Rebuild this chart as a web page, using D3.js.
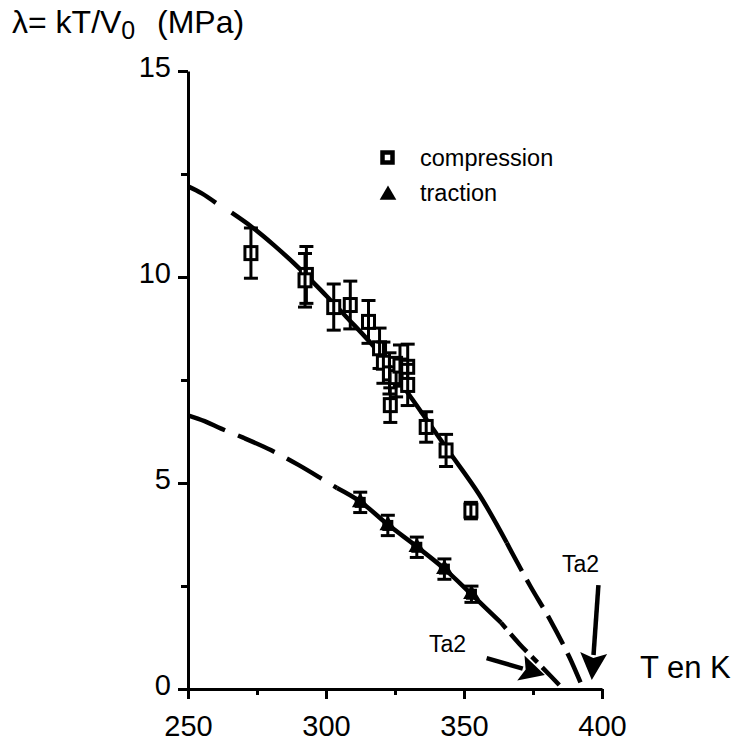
<!DOCTYPE html>
<html>
<head>
<meta charset="utf-8">
<script src="https://cdn.jsdelivr.net/npm/d3@7"></script>
<style>
  html, body { margin: 0; padding: 0; background: #fff; }
  svg { display: block; }
  text { font-family: "Liberation Sans", Arial, Helvetica, sans-serif; fill: #000; }
</style>
</head>
<body>
<script>
// ---------- data ----------
const xTicksMajor = [250, 300, 350, 400];
const xTicksMinor = [275, 325, 375];
const yTicksMajor = [0, 5, 10, 15];
const yTicksMinor = [2.5, 7.5, 12.5];

// compression measurements (T in K, lambda in MPa, error)
const compT   = [272.8, 292.9, 292.4, 302.8, 308.8, 315.4, 319.4, 320.8, 323.0, 325.4, 326.8, 329.6, 329.6, 323.3, 336.3, 343.5, 352.5];
const compL   = [10.58, 10.05, 9.92, 9.27, 9.32, 8.91, 8.27, 7.92, 7.66, 7.57, 7.85, 7.82, 7.38, 6.89, 6.36, 5.79, 4.33];
const compErr = [0.61, 0.69, 0.65, 0.56, 0.58, 0.52, 0.49, 0.50, 0.50, 0.48, 0.50, 0.55, 0.50, 0.42, 0.37, 0.39, 0.20];

// traction measurements
const tracT   = [312.4, 322.4, 332.9, 342.9, 352.7];
const tracL   = [4.53, 3.97, 3.44, 2.91, 2.30];
const tracErr = [0.15, 0.15, 0.15, 0.15, 0.10];

// fitted curves [T, lambda]
const compCurveDashTop = [[250, 12.2], [255, 12.03], [260.1, 11.8]];
const compCurveSolid   = [[265.8, 11.56], [273, 11.22], [281, 10.78], [290.5, 10.2], [300, 9.55], [307.4, 9.03], [319.4, 8.15], [331.4, 7.02], [343.5, 5.86], [355.5, 4.72], [365.5, 3.55]];
const compCurveDashBot = [[365.5, 3.55], [367.3, 3.32], [374, 2.5], [381.2, 1.68], [388, 0.8], [393.2, 0]];

const tracCurveDash    = [[250, 6.64], [256, 6.5], [262, 6.32], [270, 6.1], [280, 5.8], [290, 5.44], [300, 5.04], [304, 4.88]];
const tracCurveSolid   = [[304, 4.88], [312.4, 4.55], [322.4, 3.99], [333, 3.45], [343, 2.91], [352.7, 2.30], [363.4, 1.61]];
const tracCurveDashDot = [[363.4, 1.61], [370, 1.1], [378, 0.55], [385.9, 0]];

// annotation arrows (T, lambda) tail -> tip
const arrowTa2Upper = [[398.7, 2.52], [396.3, 0.22]];
const arrowTa2Lower = [[358.2, 0.75], [379.3, 0.34]];
const ta2Labels = ["Ta2", "Ta2"];

const legendLabels = ["compression", "traction"];

// ---------- drawing ----------
const W = 737, H = 746;
const svg = d3.select("body").append("svg").attr("width", W).attr("height", H);

const x = d3.scaleLinear().domain([250, 400]).range([188, 602]);
const y = d3.scaleLinear().domain([0, 15]).range([689, 71]);

// axes
const gx = svg.append("g").attr("transform", `translate(0,${y(0)})`)
  .call(d3.axisBottom(x).tickValues(xTicksMajor).tickSize(10).tickSizeOuter(0).tickPadding(16).tickFormat(d3.format("d")));
const gxm = svg.append("g").attr("transform", `translate(0,${y(0)})`)
  .call(d3.axisBottom(x).tickValues(xTicksMinor).tickSize(6).tickFormat(""));
gxm.select(".domain").remove();

const gy = svg.append("g").attr("transform", `translate(${x(250)},0)`)
  .call(d3.axisLeft(y).tickValues(yTicksMajor).tickSize(10).tickSizeOuter(0).tickPadding(7).tickFormat(d3.format("d")));
const gym = svg.append("g").attr("transform", `translate(${x(250)},0)`)
  .call(d3.axisLeft(y).tickValues(yTicksMinor).tickSize(7).tickFormat(""));
gym.select(".domain").remove();

svg.selectAll(".domain, .tick line").attr("stroke", "#000").attr("stroke-width", 3);
svg.selectAll(".tick text").style("font-size", "29px").attr("fill", "#000")
  .style("font-family", '"Liberation Sans", Arial, Helvetica, sans-serif');
gy.selectAll(".tick text").attr("dy", "0.2em");

// curves
const line = d3.line().x(d => x(d[0])).y(d => y(d[1])).curve(d3.curveCatmullRom);
function curve(data, dash) {
  svg.append("path").datum(data).attr("d", line)
    .attr("fill", "none").attr("stroke", "#000").attr("stroke-width", 4.5)
    .attr("stroke-dasharray", dash || null);
}
curve(compCurveDashTop);
curve(compCurveSolid);
curve(compCurveDashBot, "32,10");
curve(tracCurveDash, "40,14");
curve(tracCurveSolid);
curve(tracCurveDashDot, "8,7,24,7");

// compression markers with error bars
const comp = compT.map((t, i) => ({ t, l: compL[i], e: compErr[i] }));
const gc = svg.append("g");
comp.forEach(d => {
  const cx = x(d.t), cy = y(d.l);
  gc.append("rect").attr("x", cx - 6).attr("y", cy - 6.5).attr("width", 12).attr("height", 13)
    .attr("fill", "#fff").attr("stroke", "#000").attr("stroke-width", 3);
  gc.append("line").attr("x1", cx).attr("x2", cx).attr("y1", y(d.l + d.e)).attr("y2", y(d.l - d.e))
    .attr("stroke", "#000").attr("stroke-width", 3);
  [d.l + d.e, d.l - d.e].forEach(v => {
    gc.append("line").attr("x1", cx - 7).attr("x2", cx + 7).attr("y1", y(v)).attr("y2", y(v))
      .attr("stroke", "#000").attr("stroke-width", 3);
  });
});

// traction markers
const trac = tracT.map((t, i) => ({ t, l: tracL[i], e: tracErr[i] }));
const gt = svg.append("g");
const tri = d3.symbol().type(d3.symbolTriangle).size(120);
trac.forEach(d => {
  const cx = x(d.t), cy = y(d.l);
  gt.append("rect").attr("x", cx - 5.5).attr("y", cy - 5.5).attr("width", 11).attr("height", 11).attr("fill", "#000");
  gt.append("path").attr("d", tri).attr("transform", `translate(${cx},${cy})`).attr("fill", "#000");
  gt.append("line").attr("x1", cx).attr("x2", cx).attr("y1", y(d.l + d.e) - 4).attr("y2", y(d.l - d.e) + 4)
    .attr("stroke", "#000").attr("stroke-width", 3);
  [y(d.l + d.e) - 4, y(d.l - d.e) + 4].forEach(v => {
    gt.append("line").attr("x1", cx - 7).attr("x2", cx + 7).attr("y1", v).attr("y2", v)
      .attr("stroke", "#000").attr("stroke-width", 3);
  });
});

// arrows
function arrow(pts, headLen, headW) {
  const x1 = x(pts[0][0]), y1 = y(pts[0][1]), x2 = x(pts[1][0]), y2 = y(pts[1][1]);
  const dx = x2 - x1, dy = y2 - y1, L = Math.hypot(dx, dy);
  const ux = dx / L, uy = dy / L, px = -uy, py = ux;
  const bx = x2 - ux * headLen, by = y2 - uy * headLen;
  svg.append("line").attr("x1", x1).attr("y1", y1).attr("x2", bx + ux * 2).attr("y2", by + uy * 2)
    .attr("stroke", "#000").attr("stroke-width", 4.5);
  svg.append("path")
    .attr("d", `M${x2},${y2}L${bx + px * headW / 2},${by + py * headW / 2}L${bx + ux * 5},${by + uy * 5}L${bx - px * headW / 2},${by - py * headW / 2}Z`)
    .attr("fill", "#000");
}
arrow(arrowTa2Upper, 27, 27);
arrow(arrowTa2Lower, 25, 26);

svg.append("text").attr("x", 562).attr("y", 572).style("font-size", "23px").text(ta2Labels[0]);
svg.append("text").attr("x", 466).attr("y", 652).attr("text-anchor", "end").style("font-size", "23px").text(ta2Labels[1]);

// legend
const lg = svg.append("g");
lg.append("rect").attr("x", 382.5).attr("y", 152.5).attr("width", 10).attr("height", 10)
  .attr("fill", "#fff").attr("stroke", "#000").attr("stroke-width", 4.5);
lg.append("path").attr("d", d3.symbol().type(d3.symbolTriangle).size(120)).attr("transform", "translate(388,195)").attr("fill", "#000");
lg.append("text").attr("x", 420).attr("y", 166).style("font-size", "23.5px").text(legendLabels[0]);
lg.append("text").attr("x", 420).attr("y", 201).style("font-size", "23.5px").text(legendLabels[1]);

// axis titles
const t = svg.append("text").attr("x", 12).attr("y", 33).style("font-size", "32px");
t.append("tspan").text("λ= kT/V");
t.append("tspan").attr("dy", 6).style("font-size", "25px").text("0");
t.append("tspan").attr("dy", -6).attr("x", 157).text("(MPa)");

svg.append("text").attr("x", 640).attr("y", 678).style("font-size", "31px").text("T en K");
</script>
</body>
</html>
